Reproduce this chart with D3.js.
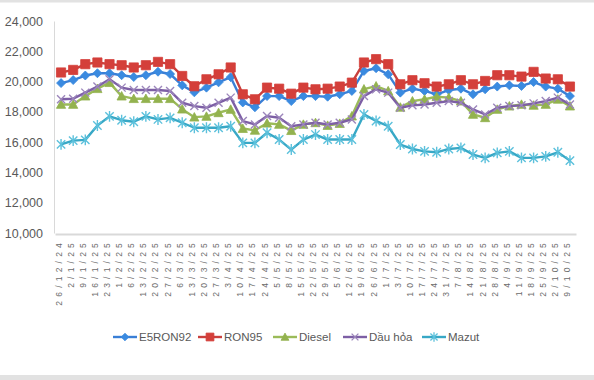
<!DOCTYPE html>
<html>
<head>
<meta charset="utf-8">
<script src="https://cdn.jsdelivr.net/npm/d3@7"></script>
<style>
  body { margin: 0; background: #fff; }
  text { font-family: "Liberation Sans", Arial, sans-serif; fill: #595959; }
</style>
</head>
<body>
<svg id="chart" width="594" height="380"></svg>
<script>
// ngày điều chỉnh giá
const dates = ["26/12/24","2/1/25","9/1/25","16/1/25","23/1/25","1/2/25","6/2/25","13/2/25","20/2/25","27/2/25",
  "6/3/25","13/3/25","20/3/25","27/3/25","3/4/25","10/4/25","17/4/25","24/4/25","5/5/25","8/5/25",
  "15/5/25","22/5/25","29/5/25","5/6/25","12/6/25","19/6/25","26/6/25","1/7/25","3/7/25","10/7/25",
  "17/7/25","24/7/25","31/7/25","7/8/25","14/8/25","21/8/25","28/8/25","4/9/25","11/9/25","18/9/25",
  "25/9/25","2/10/25","9/10/25"];

const e5ron92 = [19900,20100,20400,20550,20550,20420,20300,20420,20650,20500,
  19750,19290,19600,19950,20290,18620,18300,19040,19040,18710,
  19040,19040,19000,19160,19380,20700,20880,20480,19270,19530,
  19380,19160,19440,19530,19160,19490,19670,19750,19710,19970,
  19670,19530,19040];

const ron95 = [20600,20770,21150,21260,21150,21080,20930,21080,21300,21150,
  20370,19690,20150,20480,20930,19160,18830,19600,19530,19200,
  19600,19490,19530,19670,19930,21260,21480,21150,19820,20090,
  19890,19670,19820,20090,19820,20040,20420,20420,20330,20640,
  20200,20150,19670];

const diesel = [18490,18490,19040,19530,19930,19040,18870,18870,18870,18870,
  18180,17650,17700,17940,18160,16900,16780,17250,17170,16760,
  17170,17280,17100,17230,17720,19500,19700,19380,18300,18710,
  18830,19000,18940,18710,17830,17610,18160,18380,18490,18430,
  18490,18830,18380];

const dauHoa = [18830,18870,19270,19670,20150,19600,19440,19440,19440,19380,
  18600,18380,18270,18600,18940,17390,17170,17720,17610,17050,
  17170,17280,17170,17280,17500,19040,19490,19270,18270,18430,
  18490,18600,18710,18600,18160,17830,18270,18380,18430,18560,
  18710,18940,18490];

const mazut = [15850,16100,16150,17100,17700,17450,17350,17700,17500,17600,
  17280,16950,16950,16950,17050,15950,15950,16620,16170,15510,
  16170,16500,16170,16170,16170,17830,17400,17050,15840,15550,
  15390,15330,15550,15620,15180,14960,15290,15390,14960,14960,
  15060,15330,14780];

const seriesNames = ["E5RON92", "RON95", "Diesel", "Dầu hỏa", "Mazut"];
const yTicks = [10000, 12000, 14000, 16000, 18000, 20000, 22000, 24000];

// marker shapes, Excel style
const markers = {
  diamond: r => `M0,${-r}L${r},0L0,${r}L${-r},0Z`,
  square: r => `M${-r},${-r}H${r}V${r}H${-r}Z`,
  triangle: r => `M0,${-r}L${r},${r * 0.85}L${-r},${r * 0.85}Z`,
  cross: r => `M${-r},${-r}L${r},${r}M${-r},${r}L${r},${-r}`,
  star: r => `M${-r},${-r}L${r},${r}M${-r},${r}L${r},${-r}M0,${-r * 1.3}L0,${r * 1.3}`
};

const series = [
  { name: seriesNames[0], values: e5ron92, color: "#3a7fd6", mark: "diamond", r: 4.5, mColor: "#3a8ae0", filled: true },
  { name: seriesNames[1], values: ron95, color: "#c9403d", mark: "square", r: 4.6, mColor: "#d43f3a", filled: true },
  { name: seriesNames[2], values: diesel, color: "#9bbb59", mark: "triangle", r: 4.6, mColor: "#93b24f", filled: true },
  { name: seriesNames[3], values: dauHoa, color: "#7d5fa5", mark: "cross", r: 4, mColor: "#9c86bb", filled: false },
  { name: seriesNames[4], values: mazut, color: "#38a8c6", mark: "star", r: 4.2, mColor: "#5cc1dc", filled: false }
];

const svg = d3.select("#chart");

// frame
svg.append("rect").attr("x", 0).attr("y", 0).attr("width", 594).attr("height", 2.5).attr("fill", "#e2e2e2");
svg.append("rect").attr("x", 0).attr("y", 375).attr("width", 594).attr("height", 5).attr("fill", "#e2e2e2");

const x = d3.scalePoint().domain(dates).range([55, 576]).padding(0.5);
const y = d3.scaleLinear().domain([10000, 24000]).range([233, 21]);

// y axis
const yAxis = svg.append("g")
  .attr("transform", "translate(54,0)")
  .call(d3.axisLeft(y).tickValues(yTicks).tickSize(0).tickPadding(11).tickFormat(d3.format(",")));
yAxis.select(".domain").attr("stroke", "#d9d9d9").attr("stroke-width", 1);
yAxis.selectAll("text").style("font-size", "12.5px").style("fill", "#595959");

// x axis
const xAxis = svg.append("g")
  .attr("transform", "translate(0,234)")
  .call(d3.axisBottom(x).tickSize(0).tickSizeOuter(0));
xAxis.select(".domain").attr("stroke", "#d9d9d9").attr("stroke-width", 2);
xAxis.selectAll("text")
  .attr("transform", "rotate(-90)")
  .attr("text-anchor", "end")
  .attr("x", -5)
  .attr("y", -3)
  .attr("dy", "0.35em")
  .style("font-size", "8.5px")
  .style("letter-spacing", "4.2px")
  .style("fill", "#6b6b6b");

const line = d3.line()
  .x((d, i) => x(dates[i]))
  .y(d => y(d));

series.forEach(s => {
  const g = svg.append("g").attr("class", "series");
  g.append("path")
    .datum(s.values)
    .attr("fill", "none")
    .attr("stroke", s.color)
    .attr("stroke-width", 2.4)
    .attr("stroke-linejoin", "round")
    .attr("d", line);

  g.selectAll("path.mk")
    .data(s.values)
    .join("path")
    .attr("class", "mk")
    .attr("transform", (d, i) => `translate(${x(dates[i])},${y(d)})`)
    .attr("d", markers[s.mark](s.r))
    .attr("fill", s.filled ? s.mColor : "none")
    .attr("stroke", s.mColor)
    .attr("stroke-width", s.filled ? 0.8 : 1.4);
});

// legend
const legendX = [113, 198, 273, 343, 422];
const legend = svg.append("g").attr("transform", "translate(0,337)");
series.forEach((s, i) => {
  const lg = legend.append("g").attr("transform", `translate(${legendX[i]},0)`);
  lg.append("line").attr("x1", 0).attr("x2", 24).attr("y1", 0).attr("y2", 0)
    .attr("stroke", s.color).attr("stroke-width", 2.4);
  lg.append("path").attr("transform", "translate(12,0)")
    .attr("d", markers[s.mark](s.r * 0.85))
    .attr("fill", s.filled ? s.mColor : "none")
    .attr("stroke", s.mColor)
    .attr("stroke-width", s.filled ? 0.8 : 1.3);
  lg.append("text").attr("x", 26).attr("y", 0).attr("dy", "0.35em")
    .style("font-size", "11.5px")
    .text(s.name);
});
</script>
</body>
</html>
